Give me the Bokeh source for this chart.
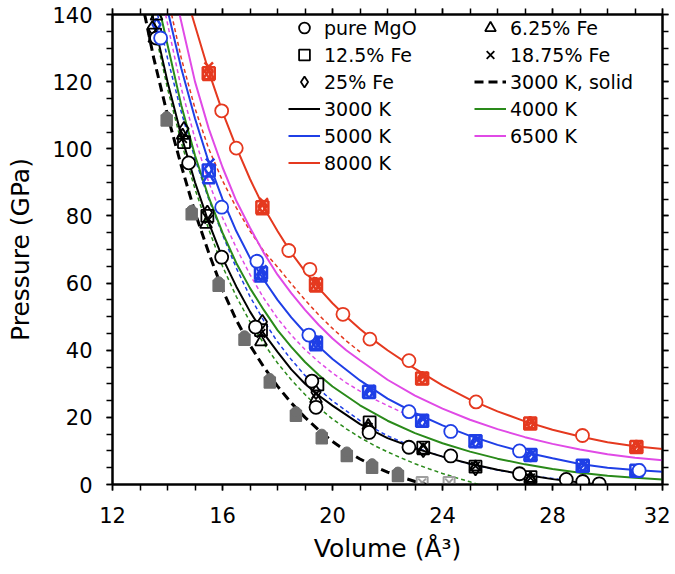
from bokeh.plotting import figure
from bokeh.models import Range1d, LinearAxis, SingleIntervalTicker, Legend, LegendItem, CustomJSTickFormatter
from bokeh.embed import file_html
from bokeh.resources import INLINE

# ---------------- curves (Volume in A^3, Pressure in GPa) ----------------
l3000_v = [13.45, 14.0, 14.5, 15.0, 15.5, 16.0, 16.5, 17.0, 17.5, 18.0, 18.5, 19.0, 19.5, 20.0, 21.0, 22.0, 23.0, 24.0, 25.0, 26.0, 27.0, 28.0, 29.0, 29.7]
l3000_p = [140, 120, 104, 90, 78, 67.5, 59, 51.5, 45, 39.5, 34.3, 30, 26.5, 23.5, 18, 13.8, 10.8, 8.3, 6.2, 4.4, 2.9, 1.6, 0.6, 0.0]
l4000_v = [13.75, 14.0, 14.5, 15.0, 15.5, 16.0, 16.5, 17.0, 17.5, 18.0, 18.5, 19.0, 19.5, 20.0, 21.0, 22.0, 23.0, 24.0, 25.0, 26.0, 27.0, 28.0, 29.0, 30.0, 31.0, 32.0]
l4000_p = [140, 131, 113, 98, 85.5, 75, 66, 58.5, 52, 46, 41, 36.5, 32.6, 29.2, 23.6, 19.0, 15.3, 12.3, 9.8, 7.7, 6.0, 4.6, 3.5, 2.6, 2.0, 1.5]
l5000_v = [14.04, 14.5, 15.0, 15.5, 16.0, 16.5, 17.0, 17.5, 18.0, 18.5, 19.0, 19.5, 20.0, 21.0, 22.0, 23.0, 24.0, 25.0, 26.0, 27.0, 28.0, 29.0, 30.0, 31.0, 32.0]
l5000_p = [140, 124, 109, 96, 85, 75.5, 67.5, 61, 55, 49.8, 45.2, 41.1, 37.4, 31.0, 25.6, 21.3, 17.6, 14.5, 11.8, 9.6, 7.8, 6.1, 5.0, 4.3, 3.8]
l6500_v = [14.44, 15.0, 15.5, 16.0, 16.5, 17.0, 17.5, 18.0, 18.5, 19.0, 19.5, 20.0, 20.5, 21.0, 22.0, 23.0, 24.0, 25.0, 26.0, 27.0, 28.0, 29.0, 30.0, 31.0, 32.0]
l6500_p = [140, 120, 106, 94.5, 84.5, 76.5, 69, 62.5, 57, 52, 47.5, 43.5, 40, 37, 31.2, 26.5, 22.6, 19.3, 16.5, 14.1, 12.1, 10.4, 9.0, 8.0, 7.2]
l8000_v = [14.88, 15.5, 16.0, 16.5, 17.0, 17.5, 18.0, 18.5, 19.0, 19.5, 20.0, 20.5, 21.0, 21.5, 22.0, 23.0, 24.0, 25.0, 26.0, 27.0, 28.0, 29.0, 30.0, 31.0, 32.0]
l8000_p = [140, 123, 111, 100.5, 91, 82.5, 75.5, 69, 63.5, 58.5, 54, 50, 46.3, 43, 40, 34.5, 29.5, 25.3, 21.8, 18.8, 16.3, 14.3, 12.6, 11.4, 10.6]

# dashed curves
s3000_v = [13.17, 13.5, 14.0, 14.5, 15.0, 15.5, 16.0, 16.5, 17.0, 17.5, 18.0, 18.5, 19.0, 19.5, 20.0, 20.5, 21.0, 21.5, 22.0, 22.5, 23.0, 23.4]
s3000_p = [140, 127, 110, 95, 81, 69, 58, 49, 41.5, 35, 29.3, 24.3, 20, 16.2, 12.8, 10, 7.6, 5.5, 3.7, 2.2, 0.9, 0]
s4000_v = [13.41, 14.0, 14.5, 15.0, 15.5, 16.0, 16.5, 17.0, 17.5, 18.0, 18.5, 19.0, 19.5, 20.0, 20.5, 21.0, 21.5, 22.0, 22.5, 23.0, 23.5, 24.0, 24.5, 25.0, 25.3]
s4000_p = [140, 118, 102, 88, 76, 65, 56, 48.5, 42, 36.2, 31.2, 26.8, 22.9, 19.5, 16.6, 14.0, 11.7, 9.7, 7.9, 6.2, 4.7, 3.3, 2.0, 0.8, 0]
s5000_v = [13.64, 14.0, 14.5, 15.0, 15.5, 16.0, 16.5, 17.0, 17.5, 18.0, 18.5, 19.0, 19.5, 20.0, 21.0, 22.0, 23.0, 24.0, 25.0, 26.0, 27.0, 28.0, 28.3]
s5000_p = [140, 127, 111, 97, 85, 74.5, 64.5, 56, 48.8, 42.5, 37.2, 32.5, 28.4, 24.9, 19.0, 14.5, 11.0, 8.3, 6.1, 4.3, 2.9, 1.8, 1.5]
s6500_v = [13.93, 14.5, 15.0, 15.5, 16.0, 16.5, 17.0, 17.5, 18.0, 18.5, 19.0, 19.5, 20.0, 20.5, 21.0, 21.5, 22.0, 22.5, 22.9]
s6500_p = [140, 118, 103, 90, 79.5, 70.5, 62.5, 55.5, 49.5, 44.5, 40.2, 36.5, 33.2, 30.3, 27.8, 25.5, 23.5, 21.6, 20.2]
s8000_v = [14.15, 14.5, 15.0, 15.5, 16.0, 16.5, 17.0, 17.5, 18.0, 18.5, 19.0, 19.5, 20.0, 20.5, 21.0]
s8000_p = [140, 127, 112, 100, 90.5, 82.5, 75.5, 69.5, 64.8, 59.8, 55, 50.5, 46.5, 42.8, 39.5]

# ---------------- points ----------------
# pure MgO (circles)
mgo3000_v = [13.6, 14.77, 15.97, 17.2, 19.25, 19.4, 21.33, 22.78, 24.3, 26.8, 28.5, 29.1, 29.7]
mgo3000_p = [133, 95.8, 67.7, 46.9, 30.8, 23.0, 15.5, 11.1, 8.5, 3.2, 1.5, 0.9, 0.2]
mgo5000_v = [13.75, 15.97, 17.25, 19.14, 22.78, 24.3, 26.8, 31.15]
mgo5000_p = [133, 82.6, 66.5, 44.5, 21.7, 15.8, 10.0, 4.2]
mgo8000_v = [15.97, 16.5, 18.41, 19.18, 20.38, 21.36, 22.78, 25.22, 29.09]
mgo8000_p = [111.3, 100.2, 69.7, 64.1, 50.7, 43.3, 36.9, 24.6, 14.6]

# Fe-bearing, 3000 K
fe6_3000_v = [13.6, 14.55, 15.4, 17.4, 19.4, 21.3, 23.3, 25.2, 27.2]
fe6_3000_p = [139.5, 104, 77.5, 42.5, 25.5, 17.5, 10.0, 5.2, 1.8]
fe12_3000_v = [13.55, 14.6, 15.45, 17.4, 19.45, 21.35, 23.3, 25.2, 27.2]
fe12_3000_p = [134, 102, 80, 46, 29.8, 18.5, 11.0, 5.3, 2.2]
fe18_3000_v = [13.45, 14.55, 15.5, 17.4, 19.4, 21.3, 23.3, 25.2, 27.2]
fe18_3000_p = [133, 103, 79, 45, 27, 17, 11.5, 5.5, 2.0]
fe25_3000_v = [13.45, 14.6, 15.45, 17.45, 19.4, 21.3, 23.3, 25.2, 27.2]
fe25_3000_p = [136, 106, 81, 48.5, 27.5, 16.5, 10.2, 4.8, 1.2]

# Fe-bearing, 5000 K
fe6_5000_v = [15.5, 17.4, 19.4, 21.33, 23.26, 25.2, 27.2, 29.1, 31.05]
fe6_5000_p = [90.8, 61.5, 41.0, 26.8, 18.3, 12.3, 8.3, 5.2, 3.8]
fe12_5000_v = [15.5, 17.4, 19.4, 21.33, 23.26, 25.2, 27.2, 29.1, 31.05]
fe12_5000_p = [93.5, 63.0, 42.2, 27.6, 19.0, 12.9, 8.8, 5.6, 4.1]
fe18_5000_v = [15.55, 17.45, 19.45, 21.38, 23.3, 25.25, 27.25, 29.15, 31.1]
fe18_5000_p = [95.8, 64.0, 43.0, 28.3, 19.6, 13.4, 9.2, 5.9, 4.4]
fe25_5000_v = [13.6, 15.5, 17.4, 19.4, 21.33, 23.26, 25.2, 27.2, 29.1, 31.05]
fe25_5000_p = [137, 94.0, 62.5, 42.5, 27.5, 18.8, 12.7, 8.6, 5.5, 4.0]

# Fe-bearing, 8000 K
fe6_8000_v = [15.5, 17.45, 19.4, 23.26, 27.19, 31.05]
fe6_8000_p = [121.5, 81.5, 58.5, 31.0, 17.8, 10.9]
fe12_8000_v = [15.5, 17.45, 19.4, 23.26, 27.19, 31.05]
fe12_8000_p = [122.5, 82.6, 59.5, 31.6, 18.2, 11.2]
fe18_8000_v = [15.5, 17.5, 19.45, 23.3, 27.25, 31.1]
fe18_8000_p = [124.5, 84.0, 60.5, 32.2, 18.7, 11.6]
fe25_8000_v = [15.5, 17.45, 19.4, 23.26, 27.19, 31.05]
fe25_8000_p = [123.0, 82.8, 59.8, 31.8, 18.4, 11.3]

# solid phase, 3000 K (grey)
sol_v = [13.97, 14.88, 15.86, 16.8, 17.72, 18.67, 19.61, 20.52, 21.44, 22.38]
sol_p = [108.4, 80.5, 59.2, 43.1, 30.4, 20.5, 13.8, 8.5, 5.0, 2.5]
sol_light_v = [23.26, 24.24]
sol_light_p = [0.6, 0.6]

x_ticks_interval = 4
y_ticks_interval = 20

RED = "#e5391f"
BLUE = "#1f3fe6"
GREEN = "#2a8a1a"
MAG = "#e04ae6"
GREY = "#6f6f6f"
FONT = "DejaVu Sans"

p = figure(width=670, height=574, x_range=Range1d(12, 32), y_range=Range1d(0, 140),
           output_backend="svg", toolbar_location=None,
           min_border_left=112, min_border_right=8, min_border_top=14, min_border_bottom=90)
p.xgrid.visible = False
p.ygrid.visible = False
p.outline_line_color = "black"
p.outline_line_width = 2
p.background_fill_color = "white"
p.border_fill_color = "white"

xt = SingleIntervalTicker(interval=x_ticks_interval, num_minor_ticks=4)
yt = SingleIntervalTicker(interval=y_ticks_interval, num_minor_ticks=4)

def style_axis(ax, labels=True):
    ax.axis_line_width = 2
    ax.major_tick_line_width = 1.5
    ax.minor_tick_line_width = 1.5
    ax.major_tick_out = 6
    ax.major_tick_in = 0
    ax.minor_tick_out = 6
    ax.minor_tick_in = 0
    if labels:
        ax.major_label_text_font = FONT
        ax.major_label_text_font_size = "21px"
        ax.major_label_text_color = "black"
        ax.axis_label_text_font = FONT
        ax.axis_label_text_font_size = "25px"
        ax.axis_label_text_font_style = "normal"
        ax.axis_label_text_color = "black"
    else:
        ax.formatter = CustomJSTickFormatter(code="return ''")
        ax.major_label_standoff = 0

xa = p.xaxis[0]
xa.ticker = xt
style_axis(xa)
xa.axis_label = "Volume (Å³)"
xa.major_label_standoff = 16
xa.axis_label_standoff = 8

ya = p.yaxis[0]
ya.ticker = yt
style_axis(ya)
ya.axis_label = "Pressure (GPa)"
ya.major_label_standoff = 14
ya.axis_label_standoff = 14

top = LinearAxis(ticker=SingleIntervalTicker(interval=x_ticks_interval, num_minor_ticks=4))
style_axis(top, labels=False)
p.add_layout(top, "above")
right = LinearAxis(ticker=SingleIntervalTicker(interval=y_ticks_interval, num_minor_ticks=4))
style_axis(right, labels=False)
p.add_layout(right, "right")

# dashed lines
r_s3000 = p.line(s3000_v, s3000_p, line_color="black", line_width=3, line_dash="9 5")
p.line(s4000_v, s4000_p, line_color=GREEN, line_width=1.5, line_dash="4 3")
p.line(s5000_v, s5000_p, line_color=BLUE, line_width=1.5, line_dash="4 3")
p.line(s6500_v, s6500_p, line_color=MAG, line_width=1.5, line_dash="4 3")
p.line(s8000_v, s8000_p, line_color=RED, line_width=1.5, line_dash="4 3")
# solid lines
r_l3000 = p.line(l3000_v, l3000_p, line_color="black", line_width=2)
r_l4000 = p.line(l4000_v, l4000_p, line_color=GREEN, line_width=2)
r_l5000 = p.line(l5000_v, l5000_p, line_color=BLUE, line_width=2)
r_l6500 = p.line(l6500_v, l6500_p, line_color=MAG, line_width=2)
r_l8000 = p.line(l8000_v, l8000_p, line_color=RED, line_width=2)

# solid-phase grey markers
p.scatter(sol_v, sol_p, marker="square", size=11, fill_color=GREY, line_color=GREY, line_width=1.5)
p.scatter(sol_v, [v + 1.2 for v in sol_p], marker="circle", size=10, fill_color=GREY, line_color=GREY)
p.scatter(sol_light_v, sol_light_p, marker="square", size=11, fill_color=None, line_color="#a0a0a0", line_width=2)
p.scatter(sol_light_v, sol_light_p, marker="x", size=11, line_color="#a0a0a0", line_width=2)

def fe(vs, ps, marker, color, size=12, lw=1.8):
    return p.scatter(vs, ps, marker=marker, size=size, fill_color=None, line_color=color, line_width=lw)

# 8000 K
for mk, vv, pp in [("square", fe12_8000_v, fe12_8000_p), ("triangle", fe6_8000_v, fe6_8000_p),
                   ("diamond", fe25_8000_v, fe25_8000_p), ("x", fe18_8000_v, fe18_8000_p)]:
    fe(vv, pp, mk, RED, lw=2.5)
# 5000 K
for mk, vv, pp in [("square", fe12_5000_v, fe12_5000_p), ("triangle", fe6_5000_v, fe6_5000_p),
                   ("diamond", fe25_5000_v, fe25_5000_p), ("x", fe18_5000_v, fe18_5000_p)]:
    fe(vv, pp, mk, BLUE, lw=2.5)
# 3000 K
r_sq = fe(fe12_3000_v, fe12_3000_p, "square", "black")
r_tr = fe(fe6_3000_v, fe6_3000_p, "triangle", "black")
r_di = fe(fe25_3000_v, fe25_3000_p, "diamond", "black", size=14)
r_x = fe(fe18_3000_v, fe18_3000_p, "x", "black")

# pure MgO circles
r_ci = p.scatter(mgo3000_v, mgo3000_p, marker="circle", size=13, fill_color="white", line_color="black", line_width=1.8)
p.scatter(mgo5000_v, mgo5000_p, marker="circle", size=13, fill_color="white", line_color=BLUE, line_width=1.8)
p.scatter(mgo8000_v, mgo8000_p, marker="circle", size=13, fill_color="white", line_color=RED, line_width=1.8)

# legend: column-major, col 1 then col 2
items = [
    LegendItem(label="pure MgO", renderers=[r_ci]),
    LegendItem(label="12.5% Fe", renderers=[r_sq]),
    LegendItem(label="25% Fe", renderers=[r_di]),
    LegendItem(label="3000 K", renderers=[r_l3000]),
    LegendItem(label="5000 K", renderers=[r_l5000]),
    LegendItem(label="8000 K", renderers=[r_l8000]),
    LegendItem(label="6.25% Fe", renderers=[r_tr]),
    LegendItem(label="18.75% Fe", renderers=[r_x]),
    LegendItem(label="3000 K, solid", renderers=[r_s3000]),
    LegendItem(label="4000 K", renderers=[r_l4000]),
    LegendItem(label="6500 K", renderers=[r_l6500]),
]
legend = Legend(items=items, ncols=2, location=(176, 308),
                label_text_font=FONT, label_text_font_size="19px", label_text_color="black",
                glyph_width=32, glyph_height=27, label_height=27, label_width=150,
                label_standoff=4, spacing=0, padding=0, margin=0,
                border_line_alpha=0, background_fill_alpha=0)
p.add_layout(legend, "center")

open("out.html", "w").write(file_html(p, INLINE))
